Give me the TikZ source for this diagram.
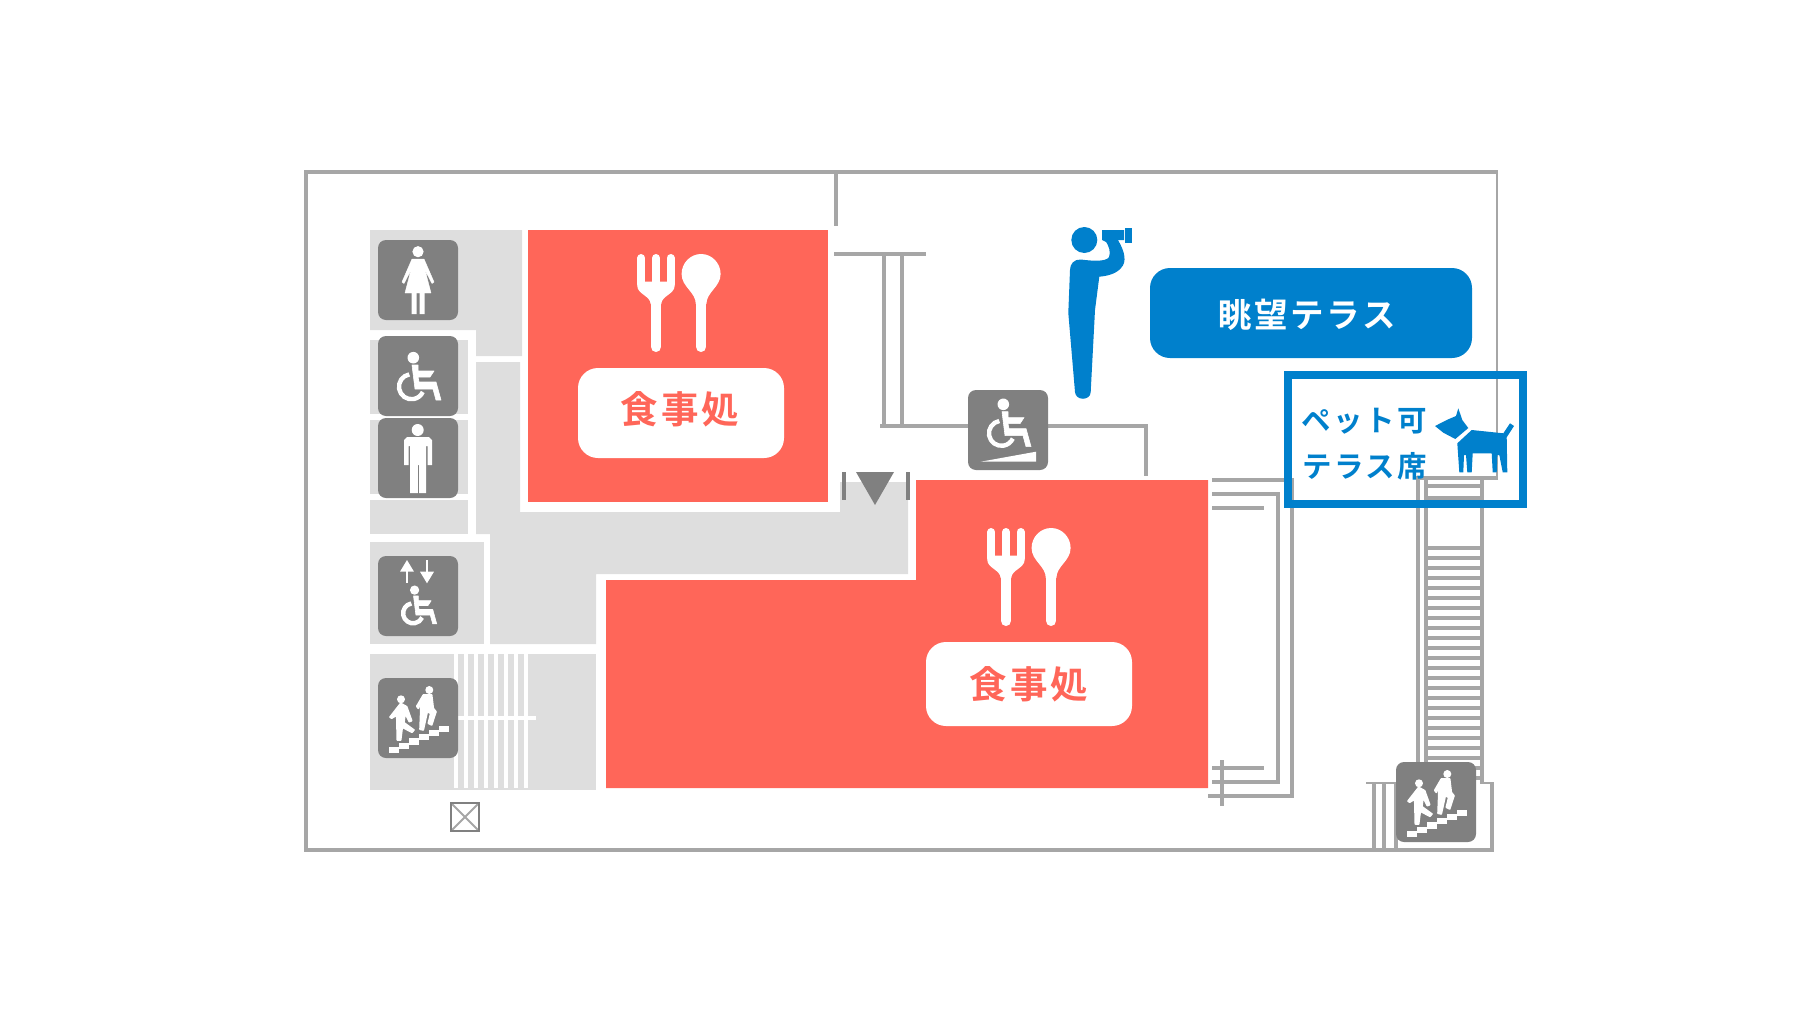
\documentclass[tikz,border=0pt]{standalone}
\usepackage{fontspec}
\newfontfamily\jpfont[BoldFont={Noto Sans CJK JP Bold},LetterSpace=8]{Noto Sans CJK JP}
\definecolor{roomgray}{HTML}{DEDEDE}
\definecolor{wallgray}{HTML}{A6A6A6}
\definecolor{icongray}{HTML}{808080}
\definecolor{foodred}{HTML}{FF6659}
\definecolor{terraceblue}{HTML}{0080CC}
\tikzset{
  wall/.style={draw=wallgray,line width=4pt},
  thinwall/.style={draw=wallgray,line width=2pt},
  iconbox/.style={fill=icongray,rounded corners=8pt,minimum size=80pt,inner sep=0pt,outer sep=0pt},
  pillbox/.style={rounded corners=20pt,inner sep=0pt,outer sep=0pt},
  foodlabel/.style={text=foodred,font=\jpfont\bfseries\fontsize{37.5}{37.5}\selectfont},
  petlabel/.style={text=terraceblue,font=\jpfont\bfseries\fontsize{29.5}{29.5}\selectfont},
  wheelchairglyph/.pic={
    \fill[white] (1.6,-29) circle (5.8);
    \filldraw[white,line width=.6pt,line join=round] (0.3,-21.7) -- (6.3,-21.7) -- (6.3,-15.7) -- (22.3,-15.7) -- (18.3,-9.7) -- (6.3,-9.7) -- (7.3,-4.7)
      -- (24.3,-4.7) -- (29.3,13.3) -- (24.3,13.3) -- (21.3,2.3) -- (3.3,2.3) -- cycle;
    \draw[white,line width=4.4pt] (-2.4,-12.3) arc[start angle=100,end angle=335,radius=12.5pt];
  },
  forkspoon/.pic={
    \draw[white,line width=8pt,line cap=round] (4,4) -- (4,30) (18.7,4) -- (18.7,30) (33.3,4) -- (33.3,30);
    \fill[white] (0,27.7) -- (37.3,27.7) -- (37.3,32) .. controls (37.3,40) and (24,42) .. (24,50)
      -- (13.3,50) .. controls (13.3,42) and (0,40) .. (0,32) -- cycle;
    \draw[white,line width=10.7pt,line cap=round] (18.7,48) -- (18.7,92.7) (63.8,48) -- (63.8,92.7);
    \fill[white] (63.8,0) .. controls (74.5,0) and (83.3,9) .. (83.3,20) .. controls (83.3,33) and (69.1,38) .. (69.1,50)
      -- (58.5,50) .. controls (58.5,38) and (44.3,33) .. (44.3,20) .. controls (44.3,9) and (53.1,0) .. (63.8,0) -- cycle;
  },
  walkersglyph/.pic={
    \foreach \k in {0,...,5}
      \fill[white] (11+10*\k,68.7-4.2*\k) rectangle (21+10*\k,75-4.2*\k);
    \fill[white] (23,21.3) circle (4) (51.3,12) circle (4);
    \filldraw[white,line width=1.6pt,line join=round] (22.7,25.3) -- (28.7,28.7) -- (33.7,42.7) -- (31.3,43.7) -- (27,35.3)
      -- (26,44.7) -- (36,52) -- (34,54.3) -- (24.3,49.3) -- (22.7,62) -- (19.3,62) -- (18.7,37) -- (13.7,40.3) -- (12,39) -- cycle;
    \filldraw[white,line width=1.6pt,line join=round] (45.3,17) -- (53.7,17) -- (55.3,30.3) -- (58,33.7) -- (53.7,47) -- (50.3,45.3)
      -- (52.7,35.3) -- (49.3,33.7) -- (45.3,52) -- (42,51.3) -- (42.7,33.7) -- (42.7,22) -- (40.3,30.3) -- (38.7,28.3) -- cycle;
  },
}
\begin{document}
\begin{tikzpicture}[x=1pt,y=-1pt]
  \useasboundingbox (0,0) rectangle (1800,1020);
  % rooms
  \fill[roomgray] (370,230) -- (522,230) -- (522,356) -- (476,356) -- (476,330) -- (370,330) -- cycle;
  \fill[roomgray] (370,340) rectangle (468,414);
  \fill[roomgray] (370,420) rectangle (468,494);
  \fill[roomgray] (370,500) rectangle (468,534);
  \fill[roomgray] (476,362) -- (520,362) -- (520,512) -- (840,512) -- (840,482) -- (908,482) -- (908,574)
    -- (596,574) -- (596,644) -- (490,644) -- (490,534) -- (476,534) -- cycle;
  \fill[roomgray] (370,542) rectangle (484,644);
  \fill[roomgray] (370,654) rectangle (596,790);
  \foreach \px in {454,464,...,524}
    \fill[white] (\px,654) rectangle (\px+4,788);
  \fill[white] (458,716) rectangle (536,720);
  % restaurants
  \fill[foodred] (528,230) rectangle (828,502);
  \fill[foodred] (916,480) -- (1208,480) -- (1208,788) -- (606,788) -- (606,580) -- (916,580) -- cycle;
  % outer walls
  \draw[wall] (1498,172) -- (306,172) -- (306,850) -- (1494,850);
  \draw[thinwall] (1497,172) -- (1497,479);
  \draw[wall] (836,172) -- (836,226);
  % upper stairs
  \draw[wall] (834,254) -- (926,254);
  \draw[wall] (884,254) -- (884,426);
  \draw[wall] (902,254) -- (902,426);
  \draw[wall] (880,426) -- (1146,426) -- (1146,476);
  % right side stairs
  \draw[wall] (1212,480) -- (1292,480) -- (1292,796) -- (1208,796);
  \draw[wall] (1212,494) -- (1278,494) -- (1278,782) -- (1212,782);
  \draw[wall] (1212,508) -- (1264,508);
  \draw[wall] (1212,768) -- (1264,768);
  \draw[wall] (1222,760) -- (1222,806);
  % long stairs
  \draw[wall] (1498,478) -- (1416,478);
  \draw[wall] (1418,476) -- (1418,770);
  \draw[wall] (1426,476) -- (1426,770);
  \draw[wall] (1482,476) -- (1482,784);
  \draw[wall] (1428,486) -- (1480,486);
  \draw[wall] (1428,498) -- (1480,498);
  \foreach \py in {548,558,...,778}
    \draw[wall] (1428,\py) -- (1480,\py);
  % lower right stairs
  \draw[thinwall] (1366,783) -- (1396,783);
  \draw[thinwall] (1480,783) -- (1494,783);
  \draw[wall] (1492,782) -- (1492,852);
  \draw[wall] (1374,783) -- (1374,850);
  \draw[wall] (1384,783) -- (1384,850);
  \draw[wall] (1396,783) -- (1396,850);
  % entrance
  \fill[icongray] (856,472) -- (894,472) -- (875,505) -- cycle;
  \fill[icongray] (842,472) rectangle (846,500);
  \fill[icongray] (906,472) rectangle (910,500);
  % shaft
  \draw[thinwall] (451,803) -- (479,831) (479,803) -- (451,831);
  \draw[icongray,line width=2pt] (451,803) rectangle (479,831);
  % icons
  \node[iconbox] (ladies) at (418,280) {};
  \node[iconbox] (toilet) at (418,376) {};
  \node[iconbox] (gents) at (418,458) {};
  \node[iconbox] (lift) at (418,596) {};
  \node[iconbox] (stairsleft) at (418,718) {};
  \node[iconbox] (ramp) at (1008,430) {};
  \node[iconbox] (stairsright) at (1436,802) {};
  % ladies
  \begin{scope}[shift={(378,240)}]
    \fill[white] (40,11.7) circle (5.6);
    \filldraw[white,line width=.4pt,line join=round] (34,19) -- (46,19) -- (56,42) -- (54,43.5) -- (47,30) -- (53,53) -- (27,53)
      -- (33,30) -- (26,43.5) -- (24,42) -- cycle;
    \fill[white] (33.5,53) rectangle (38.5,74) (41.5,53) rectangle (46.5,74);
  \end{scope}
  % gents
  \begin{scope}[shift={(378,418)}]
    \fill[white] (39.7,12) circle (6);
    \fill[white] (29,19) -- (51,19) -- (54,22) -- (54,47) -- (49.5,47) -- (49.5,28) -- (48,28) -- (48,75) -- (41,75) -- (41,47)
      -- (39.8,47) -- (39.8,75) -- (32,75) -- (32,28) -- (30.5,28) -- (30.5,47) -- (26,47) -- (26,22) -- cycle;
  \end{scope}
  \pic at (411.7,386.7) {wheelchairglyph};
  \pic[scale=.8] at (413.3,613.3) {wheelchairglyph};
  \pic at (1001.7,433.3) {wheelchairglyph};
  \fill[white] (980.7,461.7) -- (1036,451.7) -- (1036,461.7) -- cycle;
  % lift arrows
  \fill[white] (400,571.7) -- (414,571.7) -- (407,560) -- cycle;
  \fill[white] (406,571) rectangle (408,583.3);
  \fill[white] (420,571.7) -- (434,571.7) -- (427,583.3) -- cycle;
  \fill[white] (426,560) rectangle (428,572);
  \pic at (378,678) {walkersglyph};
  \pic at (1396,762) {walkersglyph};
  % food
  \pic at (637.3,254) {forkspoon};
  \pic at (987.3,528) {forkspoon};
  \node[pillbox,fill=white,minimum width=206pt,minimum height=90pt] (foodpillA) at (681,413) {};
  \node[pillbox,fill=white,minimum width=206pt,minimum height=84pt] (foodpillB) at (1029,684) {};
  \node[foodlabel] (foodtextA) at (680,409.5) {食事処};
  \node[foodlabel] (foodtextB) at (1029,684) {食事処};
  % terrace
  \fill[terraceblue] (1084.3,240) circle (13);
  \fill[terraceblue] (1102,230) -- (1124,230) -- (1124,240) -- (1118,240) -- (1117,242) -- (1106,242) -- (1102,240) -- cycle;
  \fill[terraceblue] (1125.3,228) rectangle (1132,242.7);
  \fill[terraceblue] (1070,270) .. controls (1070,264) and (1074,259) .. (1081,259.5) .. controls (1092,261) and (1106,262) .. (1109,257)
    .. controls (1111,252) and (1109,246) .. (1105,240) -- (1118,240) .. controls (1125,252) and (1127,262) .. (1121,268)
    .. controls (1116,274) and (1107,276) .. (1099.3,276.7) -- (1095,310) -- (1090.7,392) .. controls (1090.5,401) and (1075.5,401) .. (1075,392)
    -- (1068.3,313) -- cycle;
  \node[pillbox,fill=terraceblue,minimum width=322pt,minimum height=90pt] (viewpill) at (1311,313) {};
  \node[text=white,font=\jpfont\bfseries\fontsize{33.5}{33.5}\selectfont] (viewtext) at (1307,314.5) {眺望テラス};
  % pet seats
  \draw[terraceblue,line width=8pt] (1288,375) rectangle (1523,504);
  \node[petlabel] (pettextA) at (1364.5,421) {ペット可};
  \node[petlabel] (pettextB) at (1364.5,466) {テラス席};
  \fill[terraceblue] (1458.3,408.3) -- (1462.3,420) -- (1468.3,428) -- (1455.3,439) -- (1443.3,432.7) -- (1435,426) -- (1448.3,419.3) -- (1456,416) -- cycle;
  \fill[terraceblue] (1457.3,443.3) -- (1471.7,430) -- (1503.3,433.3) -- (1510,423.3) -- (1514,426) -- (1506.7,437.3) -- (1507.3,472.3)
    -- (1502.7,472.3) -- (1499.3,455) -- (1497.3,455) -- (1496.7,472.3) -- (1492.7,472.3) -- (1491.7,453.3) -- (1472.7,453.3)
    -- (1471.7,472.3) -- (1467.3,472.3) -- (1466,455) -- (1464,455) -- (1463.3,472.3) -- (1459.3,472.3) -- cycle;
\end{tikzpicture}
\end{document}
